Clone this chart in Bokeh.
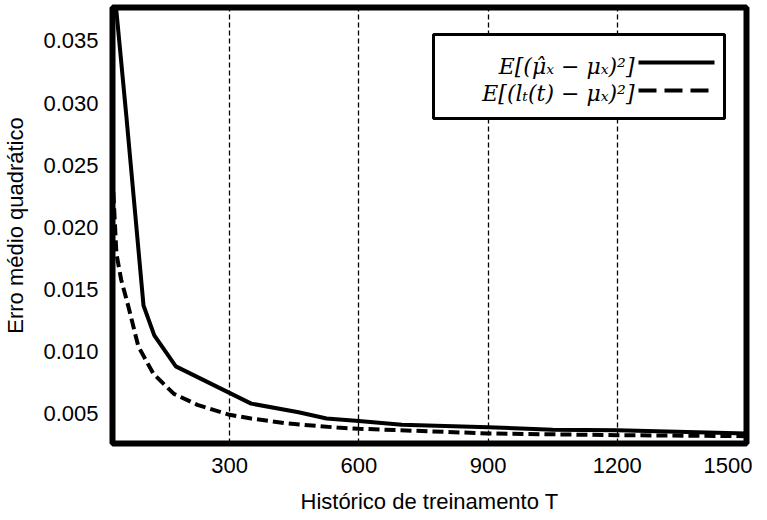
from bokeh.plotting import figure
from bokeh.models import Range1d, FixedTicker, BoxAnnotation, Label, Arrow
from bokeh.embed import file_html
from bokeh.resources import INLINE

# ---- data ----
T_est = [30, 60, 100, 125, 175, 350, 460, 525, 600, 700, 900, 1050, 1200, 1500]
mse_est = [0.0400, 0.0290, 0.0137, 0.0113, 0.0088, 0.0058, 0.0051, 0.0046,
           0.0044, 0.0041, 0.0039, 0.0037, 0.00365, 0.0034]

T_lt = [30, 37, 48, 65, 88, 123, 170, 225, 300, 350, 435, 550, 600, 900, 1200, 1500]
mse_lt = [0.0228, 0.0179, 0.0158, 0.0136, 0.0104, 0.0082, 0.0066, 0.0057, 0.0049,
          0.0046, 0.0042, 0.00387, 0.00378, 0.0034, 0.00326, 0.00318]

x_ticks = [300, 600, 900, 1200, 1500]
y_ticks = [0.005, 0.010, 0.015, 0.020, 0.025, 0.030, 0.035]
y_tick_labels = ["0.005", "0.010", "0.015", "0.020", "0.025", "0.030", "0.035"]

label_est = "E[(μ̂ₓ − μₓ)²]"
label_lt = "E[(lₜ(t) − μₓ)²]"

# ---- layout ----
X0, X1 = 28, 1500
Y0, Y1 = 0.00259, 0.03769
FW, FH = 634, 436
FL, FT = 114, 7  # frame left / top as seen in the picture


def xd(px):
    return X0 + (px - FL) * (X1 - X0) / FW


def yd(py):
    return Y1 - (py - FT) * (Y1 - Y0) / FH


p = figure(frame_width=FW, frame_height=FH, output_backend="svg", toolbar_location=None,
           x_range=Range1d(X0, X1), y_range=Range1d(Y0, Y1),
           min_border_left=106, min_border_top=7, min_border_right=6, min_border_bottom=10)

p.outline_line_color = "black"
p.outline_line_width = 6
p.background_fill_color = "white"
p.border_fill_color = "white"

p.xaxis.ticker = FixedTicker(ticks=x_ticks)
p.yaxis.ticker = FixedTicker(ticks=y_ticks)
p.yaxis.major_label_overrides = {t: l for t, l in zip(y_ticks, y_tick_labels)}

for ax in (p.xaxis, p.yaxis):
    ax.axis_line_color = None
    ax.major_tick_line_color = None
    ax.minor_tick_line_color = None
    ax.major_tick_out = 0
    ax.major_tick_in = 0
    ax.major_label_text_font = "Liberation Sans"
    ax.major_label_text_font_size = "22px"
    ax.major_label_text_color = "black"
    ax.major_label_standoff = 14
    ax.axis_label_text_font = "Liberation Sans"
    ax.axis_label_text_font_size = "22px"
    ax.axis_label_text_font_style = "normal"
    ax.axis_label_text_color = "black"

p.xaxis.axis_label = "Histórico de treinamento T"
p.yaxis.axis_label = "Erro médio quadrático"
p.xaxis.axis_label_standoff = 13
p.yaxis.axis_label_standoff = 12

p.ygrid.grid_line_color = None
p.xgrid.ticker = FixedTicker(ticks=x_ticks)
p.xgrid.grid_line_color = "black"
p.xgrid.grid_line_width = 1.3
p.xgrid.grid_line_dash = "5 3"

p.line(T_est, mse_est, line_color="black", line_width=4)
p.line(T_lt, mse_lt, line_color="black", line_width=4, line_dash="11 5")

# ---- legend (label on the left, sample on the right) ----
p.add_layout(BoxAnnotation(left=xd(435), right=xd(726), top=yd(34), bottom=yd(118),
                           fill_color="white", fill_alpha=1.0,
                           line_color="black", line_width=3, line_alpha=1.0))
for txt, base_py in ((label_est, 66), (label_lt, 93)):
    p.add_layout(Label(x=xd(636), y=yd(base_py), text=txt, text_align="right",
                       text_baseline="alphabetic", text_font="DejaVu Serif",
                       text_font_style="italic", text_font_size="22px", text_color="black"))
p.add_layout(Arrow(end=None, x_start=xd(640), x_end=xd(716), y_start=yd(62), y_end=yd(62),
                   line_color="black", line_width=4))
p.add_layout(Arrow(end=None, x_start=xd(640), x_end=xd(716), y_start=yd(90), y_end=yd(90),
                   line_color="black", line_width=4, line_dash="18 8"))

open("out.html", "w").write(file_html(p, INLINE))
